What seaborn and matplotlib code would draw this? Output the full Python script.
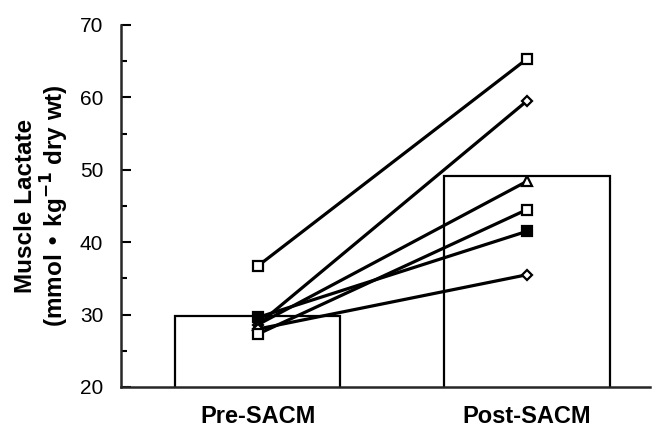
import matplotlib
matplotlib.use("Agg")
import matplotlib.pyplot as plt
import seaborn as sns
import pandas as pd
from matplotlib.ticker import MultipleLocator

conditions = ["Pre-SACM", "Post-SACM"]
pre_values = [36.7, 28.6, 28.6, 27.3, 29.6, 28.0]
post_values = [65.3, 59.5, 48.4, 44.5, 41.5, 35.5]
subject_markers = ["s", "D", "^", "s", "s", "D"]
subject_filled = [False, False, False, False, True, False]

df = pd.DataFrame({
    "condition": [conditions[0]] * len(pre_values) + [conditions[1]] * len(post_values),
    "lactate": pre_values + post_values,
})

sns.set_style("ticks")
plt.rcParams["font.family"] = ["Liberation Sans", "DejaVu Sans"]
plt.rcParams["text.color"] = "black"
plt.rcParams["axes.labelcolor"] = "black"
plt.rcParams["xtick.color"] = "black"
plt.rcParams["ytick.color"] = "black"

fig = plt.figure(figsize=(6.59, 4.30), dpi=100)
ax = fig.add_axes([0.184, 0.10, 0.803, 0.842])

sns.barplot(data=df, x="condition", y="lactate", order=conditions, errorbar=None,
            fill=False, color="black", linewidth=1.6, width=0.615, ax=ax)
for p in ax.patches:
    p.set_edgecolor("black")
    p.set_facecolor("white")
    p.set_linewidth(1.6)
    p.set_zorder(1)

# draw order: diamonds / triangle first, squares on top
order = [1, 2, 5, 0, 3, 4]
for i in order:
    pre, post, m, filled = pre_values[i], post_values[i], subject_markers[i], subject_filled[i]
    ms = 5.5 if m == "D" else 7
    ax.plot(conditions, [pre, post], color="black", linewidth=2.3, zorder=3,
            marker=m, markersize=ms, markerfacecolor="black" if filled else "white",
            markeredgecolor="black", markeredgewidth=1.6)

ax.set_ylim(20, 70)
ax.set_xlim(-0.507, 1.459)
ax.yaxis.set_major_locator(MultipleLocator(10))
ax.yaxis.set_minor_locator(MultipleLocator(5))
ax.tick_params(axis="y", which="major", direction="in", length=7, width=1.5,
               labelsize=15, pad=13)
ax.tick_params(axis="y", which="minor", direction="in", length=4.5, width=1.5)
ax.tick_params(axis="x", length=0, labelsize=17, pad=13)
for lab in ax.get_xticklabels():
    lab.set_fontweight("bold")

ax.set_xlabel("")
ax.set_ylabel("Muscle Lactate\n(mmol \u2022 kg$^{\\mathbf{-1}}$ dry wt)",
              fontsize=17.5, fontweight="bold", labelpad=6, linespacing=1.1)

sns.despine(ax=ax)
for s in ["left", "bottom"]:
    ax.spines[s].set_linewidth(1.8)

fig.savefig("out.png", dpi=100)
